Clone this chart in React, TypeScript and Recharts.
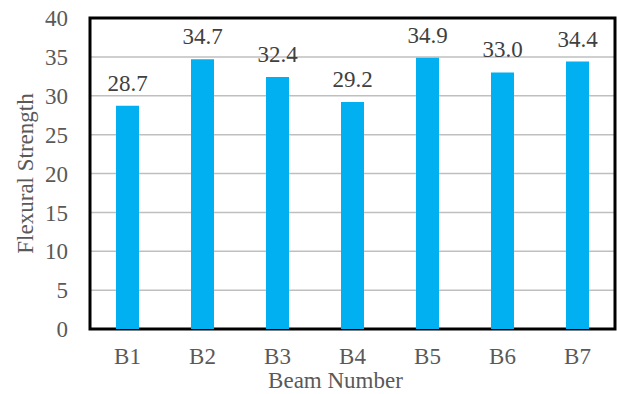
import { BarChart, Bar, XAxis, YAxis, CartesianGrid, LabelList, ReferenceArea } from "recharts";

const beams = ["B1", "B2", "B3", "B4", "B5", "B6", "B7"];
const strength = [28.7, 34.7, 32.4, 29.2, 34.9, 33.0, 34.4];
const yTicks = [0, 5, 10, 15, 20, 25, 30, 35, 40];

const data = beams.map((beam, i) => ({ beam, strength: strength[i] }));

const FONT = "'Liberation Serif', 'Times New Roman', serif";
const GREY = "#595959";

export default function App() {
  return (
    <div style={{ position: "absolute", left: 0, top: 0, fontFamily: FONT }}>
      <BarChart
        width={617}
        height={394}
        data={data}
        margin={{ top: 18, right: 2, left: 0, bottom: 0 }}
        barCategoryGap="34%"
        style={{ fontFamily: FONT }}
      >
        <CartesianGrid horizontal vertical={false} stroke="#bfbfbf" strokeWidth={1.5} syncWithTicks />
        <XAxis
          dataKey="beam"
          height={65}
          tickLine={false}
          tickSize={0}
          tickMargin={19}
          axisLine={false}
          tick={{ fill: GREY, fontSize: 23, fontFamily: FONT }}
          label={{
            value: "Beam Number",
            position: "insideBottom",
            offset: 6,
            dx: -17,
            fill: GREY,
            fontSize: 23,
            fontFamily: FONT,
          }}
        />
        <YAxis
          width={90}
          domain={[0, 40]}
          ticks={yTicks}
          interval={0}
          tickLine={false}
          tickSize={0}
          tickMargin={22}
          axisLine={false}
          tick={{ fill: GREY, fontSize: 23, fontFamily: FONT }}
          label={{
            value: "Flexural Strength",
            angle: -90,
            position: "insideLeft",
            offset: 25,
            style: { textAnchor: "middle" },
            fill: GREY,
            fontSize: 23,
            fontFamily: FONT,
          }}
        />
        <Bar dataKey="strength" fill="#00b0f0" barSize={23} isAnimationActive={false}>
          <LabelList
            dataKey="strength"
            position="top"
            offset={15}
            formatter={(v: number) => v.toFixed(1)}
            fill="#404040"
            fontSize={23}
            fontFamily={FONT}
          />
        </Bar>
        {/* black frame around the plot box */}
        <ReferenceArea
          y1={0}
          y2={40}
          fill="none"
          fillOpacity={0}
          stroke="#000000"
          strokeOpacity={1}
          strokeWidth={3}
          ifOverflow="visible"
        />
      </BarChart>
    </div>
  );
}
